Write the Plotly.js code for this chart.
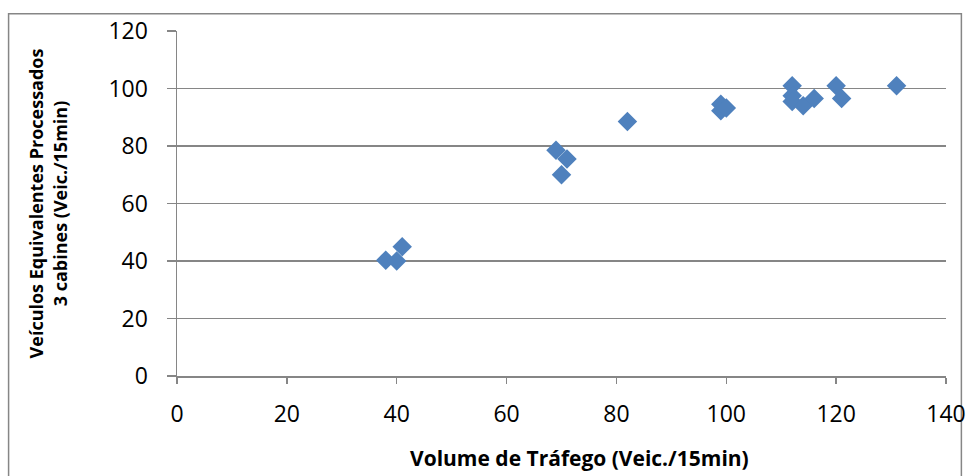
<!DOCTYPE html>
<html>
<head>
<meta charset="utf-8">
<script src="https://cdn.plot.ly/plotly-3.0.1.min.js"></script>
<style>html,body{margin:0;padding:0;background:#fff;}#chart{width:969px;height:476px;}</style>
</head>
<body>
<div id="chart"></div>
<script>
// Volume de Tráfego (Veic./15min)
const volume = [38, 40, 41, 69, 70, 71, 82, 99, 99, 100, 112, 112, 112, 114, 116, 120, 121, 131];
// Veículos Equivalentes Processados 3 cabines (Veic./15min)
const processados = [40.3, 40, 45, 78.5, 70, 75.5, 88.5, 94.5, 92.3, 93.2, 101, 97.5, 95.5, 94, 96.5, 101, 96.5, 101];
const xTicks = [0, 20, 40, 60, 80, 100, 120, 140];
const yTicks = [0, 20, 40, 60, 80, 100, 120];
const xTitle = 'Volume de Tráfego (Veic./15min)';
const yTitle = 'Veículos Equivalentes Processados<br>3 cabines (Veic./15min)';

const font = "'Open Sans', 'DejaVu Sans', sans-serif";

const trace = {
  x: volume,
  y: processados,
  type: 'scatter',
  mode: 'markers',
  marker: {symbol: 'diamond', size: 15, color: '#4F81BD', line: {width: 0}},
  hoverinfo: 'x+y'
};

const layout = {
  width: 969,
  height: 476,
  margin: {l: 177, r: 23, t: 31, b: 100},
  paper_bgcolor: '#ffffff',
  plot_bgcolor: '#ffffff',
  showlegend: false,
  font: {family: font, color: '#000000'},
  xaxis: {
    range: [0, 140],
    tickvals: xTicks,
    ticktext: xTicks.map(String),
    showgrid: false,
    zeroline: false,
    showline: true,
    linecolor: '#868686',
    linewidth: 1.5,
    ticks: 'outside',
    ticklen: 6,
    tickcolor: '#868686',
    tickwidth: 1.5,
    ticklabelstandoff: 11,
    tickfont: {family: font, size: 23, color: '#000'}
  },
  yaxis: {
    range: [0, 120],
    tickvals: yTicks,
    ticktext: yTicks.map(String),
    showgrid: true,
    gridcolor: '#868686',
    gridwidth: 1.5,
    zeroline: false,
    showline: true,
    linecolor: '#868686',
    linewidth: 1.5,
    ticks: 'outside',
    ticklen: 9,
    tickcolor: '#868686',
    tickwidth: 1.5,
    ticklabelstandoff: 14,
    tickfont: {family: font, size: 23, color: '#000'},
    title: {text: '<b>' + yTitle + '</b>', font: {family: font, size: 18, color: '#000'}, standoff: 36}
  },
  annotations: [{
    text: '<b>' + xTitle + '</b>',
    xref: 'paper', yref: 'paper',
    x: 0.524, y: -0.238, xanchor: 'center', yanchor: 'middle',
    showarrow: false,
    font: {family: font, size: 21, color: '#000'}
  }],
  shapes: [{
    type: 'rect', xref: 'paper', yref: 'paper',
    x0: -0.219, x1: 1.02, y0: -0.31, y1: 1.05,
    line: {color: '#868686', width: 1.5}, fillcolor: 'rgba(0,0,0,0)', layer: 'below'
  }]
};

Plotly.newPlot('chart', [trace], layout, {displayModeBar: false, staticPlot: true});
</script>
</body>
</html>
